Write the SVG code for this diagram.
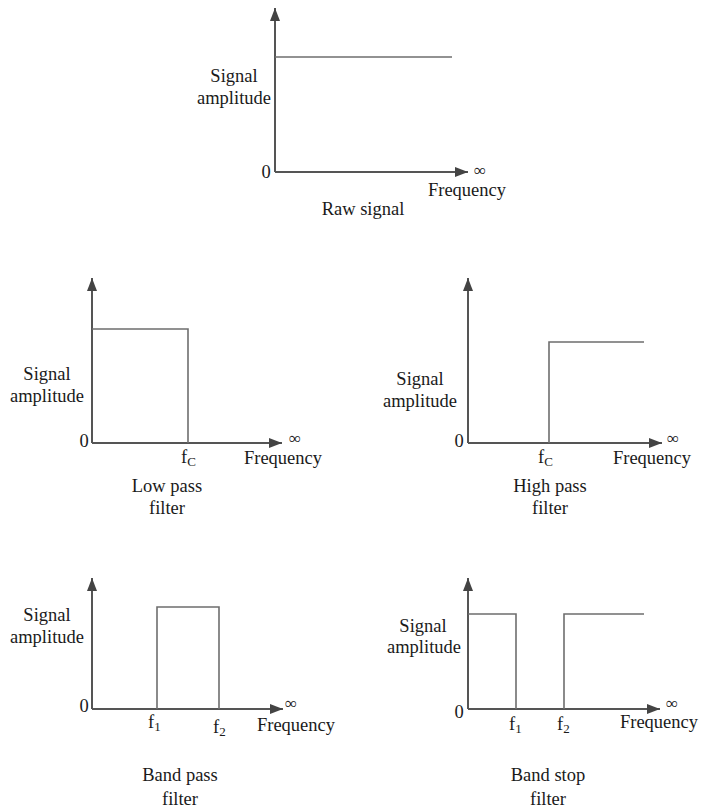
<svg xmlns="http://www.w3.org/2000/svg" width="704" height="809" viewBox="0 0 704 809">
  <style>
    text { font-family: "Liberation Serif", "Times New Roman", serif; font-size: 18.5px; fill: #1a1a1a; }
    .mid { text-anchor: middle; }
    .sub { font-size: 13px; }
    .inf { font-size: 17px; }
    .axis { fill: none; stroke: #555; stroke-width: 2; marker-end: url(#arrow); }
    .trace { fill: none; stroke: #6e6e6e; stroke-width: 1.6; }
  </style>
  <defs>
    <marker id="arrow" markerUnits="userSpaceOnUse" markerWidth="14" markerHeight="12" refX="13" refY="5" orient="auto">
      <path d="M0,0 L13,5 L0,10 Z" fill="#444"/>
    </marker>
  </defs>
  <rect width="704" height="809" fill="#fff"/>

  <!-- Raw signal -->
  <g id="raw-signal">
    <path class="axis" d="M275,172 V8"/>
    <path class="axis" d="M275,172 H468"/>
    <path class="trace" d="M275,57 H452"/>
    <text class="mid" x="234" y="82">Signal</text>
    <text class="mid" x="234" y="104">amplitude</text>
    <text class="mid" x="266" y="178">0</text>
    <text class="mid inf" x="480" y="176">∞</text>
    <text class="mid" x="467" y="196">Frequency</text>
    <text class="mid" x="363" y="215">Raw signal</text>
  </g>

  <!-- Low pass filter -->
  <g id="low-pass">
    <path class="axis" d="M92,443 V278"/>
    <path class="axis" d="M92,443 H282"/>
    <path class="trace" d="M92,329 H188 V443"/>
    <text class="mid" x="47" y="380">Signal</text>
    <text class="mid" x="47" y="402">amplitude</text>
    <text class="mid" x="84" y="447">0</text>
    <text class="mid inf" x="295" y="444">∞</text>
    <text x="181" y="463">f<tspan class="sub" dy="3">C</tspan></text>
    <text class="mid" x="283" y="464">Frequency</text>
    <text class="mid" x="167" y="492">Low pass</text>
    <text class="mid" x="167" y="514">filter</text>
  </g>

  <!-- High pass filter -->
  <g id="high-pass">
    <path class="axis" d="M468,443 V278"/>
    <path class="axis" d="M468,443 H662"/>
    <path class="trace" d="M549,443 V342 H644"/>
    <text class="mid" x="420" y="385">Signal</text>
    <text class="mid" x="420" y="407">amplitude</text>
    <text class="mid" x="459" y="447">0</text>
    <text class="mid inf" x="673" y="444">∞</text>
    <text x="538" y="463">f<tspan class="sub" dy="3">C</tspan></text>
    <text class="mid" x="652" y="464">Frequency</text>
    <text class="mid" x="550" y="492">High pass</text>
    <text class="mid" x="550" y="514">filter</text>
  </g>

  <!-- Band pass filter -->
  <g id="band-pass">
    <path class="axis" d="M92,709 V578"/>
    <path class="axis" d="M92,709 H283"/>
    <path class="trace" d="M157,709 V607 H219 V709"/>
    <text class="mid" x="47" y="621">Signal</text>
    <text class="mid" x="47" y="643">amplitude</text>
    <text class="mid" x="84" y="712">0</text>
    <text class="mid inf" x="291" y="709">∞</text>
    <text x="148" y="728">f<tspan class="sub" dy="3">1</tspan></text>
    <text x="213" y="733">f<tspan class="sub" dy="3">2</tspan></text>
    <text class="mid" x="296" y="731">Frequency</text>
    <text class="mid" x="180" y="781">Band pass</text>
    <text class="mid" x="180" y="805">filter</text>
  </g>

  <!-- Band stop filter -->
  <g id="band-stop">
    <path class="axis" d="M468,709 V578"/>
    <path class="axis" d="M468,709 H660"/>
    <path class="trace" d="M468,614 H516 V709 M564,709 V614 H644"/>
    <text class="mid" x="423" y="632">Signal</text>
    <text class="mid" x="424" y="653">amplitude</text>
    <text class="mid" x="459" y="718">0</text>
    <text class="mid inf" x="672" y="709">∞</text>
    <text x="509" y="730">f<tspan class="sub" dy="3">1</tspan></text>
    <text x="557" y="730">f<tspan class="sub" dy="3">2</tspan></text>
    <text class="mid" x="659" y="728">Frequency</text>
    <text class="mid" x="548" y="781">Band stop</text>
    <text class="mid" x="548" y="805">filter</text>
  </g>
</svg>
